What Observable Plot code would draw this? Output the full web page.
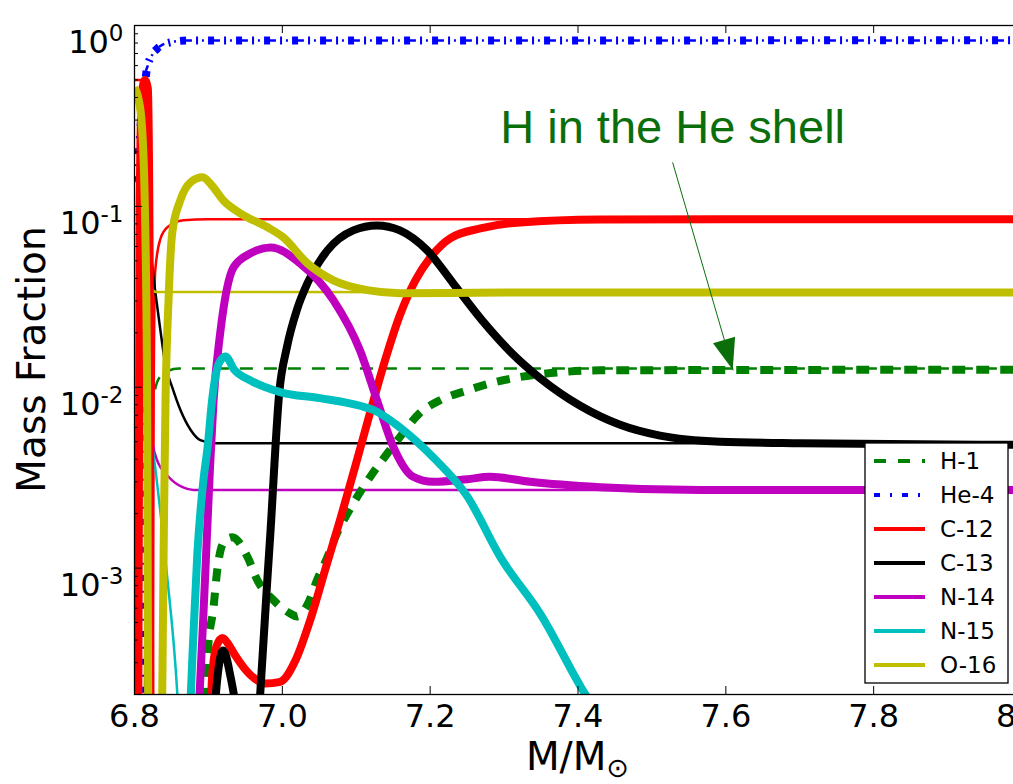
<!DOCTYPE html>
<html>
<head>
<meta charset="utf-8">
<script src="https://cdn.jsdelivr.net/npm/d3@7"></script>
<script src="https://cdn.jsdelivr.net/npm/@observablehq/plot@0.6"></script>
<style>
  html, body { margin: 0; padding: 0; background: #fff; overflow: hidden; }
  #chart { width: 1013px; height: 784px; overflow: hidden; }
  #chart svg { max-width: none !important; height: 784px !important; }
</style>
</head>
<body>
<div id="chart"></div>
<script>
// Mass-fraction profiles across the He intershell, [M/Msun, mass fraction].
// "thin" = reference profile, "thick" = profile after H ingestion.
const species = ["H-1", "He-4", "C-12", "C-13", "N-14", "N-15", "O-16"];

const thinH1 = [[6.814,1e-4],[6.818,0.002],[6.822,0.0065],[6.828,0.0098],[6.835,0.0115],[6.845,0.0123],[6.86,0.0127],[7.0,0.0127],[8.0,0.0127]];
const thickH1 = [[6.893,1e-4],[6.899,3.4e-4],[6.907,6.1e-4],[6.912,9.8e-4],[6.920,1.37e-3],[6.932,1.48e-3],[6.953,1.15e-3],[6.966,8.6e-4],[6.988,6.65e-4],[7.011,5.6e-4],[7.020,5.4e-4],[7.035,6.4e-4],[7.047,8.6e-4],[7.061,1.15e-3],[7.074,1.56e-3],[7.088,2.0e-3],[7.119,3.2e-3],[7.142,4.3e-3],[7.159,5.3e-3],[7.186,7.2e-3],[7.214,8.5e-3],[7.25,9.6e-3],[7.281,0.0105],[7.322,0.0114],[7.376,0.0121],[7.43,0.0124],[8.0,0.0125]];

const thinHe4 = [[6.8,0.136],[6.803,0.22],[6.807,0.38],[6.812,0.5],[6.818,0.6],[6.825,0.7],[6.835,0.77],[6.85,0.81],[6.87,0.825],[8.0,0.826]];
const thickHe4 = [[6.811,1e-4],[6.813,0.3],[6.816,0.55],[6.822,0.67],[6.83,0.74],[6.845,0.8],[6.87,0.825],[8.0,0.828]];

const thinC12 = [[6.8,0.5],[6.817,0.5],[6.8195,0.05],[6.821,1e-4],[6.824,1e-4],[6.826,0.01],[6.828,0.044],[6.835,0.066],[6.845,0.077],[6.866,0.0837],[6.9,0.0848],[8.0,0.085]];
const thickC12 = [[6.805,1e-4],[6.807,0.1],[6.810,0.42],[6.814,0.5],[6.818,0.45],[6.8205,0.05],[6.822,1e-4],[6.9,1e-4],[6.905,2.5e-4],[6.911,3.7e-4],[6.919,4.1e-4],[6.927,3.8e-4],[6.936,3.3e-4],[6.957,2.56e-4],[6.977,2.3e-4],[6.997,2.35e-4],[7.018,3.1e-4],[7.038,5.2e-4],[7.058,9.8e-4],[7.078,1.84e-3],[7.099,3.7e-3],[7.119,7.3e-3],[7.139,0.0141],[7.159,0.025],[7.18,0.039],[7.2,0.052],[7.227,0.0666],[7.268,0.0755],[7.322,0.0815],[7.43,0.0845],[7.6,0.085],[8.0,0.085]];

const thinC13 = [[6.814,1e-4],[6.816,0.03],[6.819,0.06],[6.823,0.05],[6.828,0.034],[6.835,0.0207],[6.842,0.0132],[6.851,0.01],[6.862,0.0075],[6.876,0.0058],[6.889,0.0051],[6.909,0.0049],[8.0,0.0049]];
const thickC13 = [[6.905,1e-4],[6.91,2e-4],[6.92,3.5e-4],[6.93,2.5e-4],[6.939,1.5e-4],[6.944,1e-4],[6.966,1e-4],[6.97,2e-4],[6.984,1.6e-3],[6.996,0.0095],[7.006,0.0165],[7.02,0.027],[7.034,0.0376],[7.061,0.0571],[7.096,0.0737],[7.128,0.0785],[7.159,0.0737],[7.196,0.0571],[7.231,0.0376],[7.27,0.0235],[7.31,0.0155],[7.349,0.0112],[7.403,0.0079],[7.457,0.0062],[7.511,0.0054],[7.592,0.005],[7.7,0.0049],[8.0,0.0048]];

const thinN14 = [[6.814,0.03],[6.818,0.012],[6.822,0.0058],[6.83,0.004],[6.846,0.0032],[6.865,0.0028],[6.88,0.0027],[8.0,0.0027]];
const thickN14 = [[6.883,1e-4],[6.888,2e-4],[6.895,8e-4],[6.902,0.0035],[6.907,0.0085],[6.916,0.02],[6.934,0.046],[6.957,0.055],[6.984,0.0593],[7.024,0.0484],[7.069,0.0303],[7.105,0.016],[7.128,0.0085],[7.15,0.0047],[7.177,0.0032],[7.204,0.003],[7.25,0.0031],[7.281,0.0032],[7.335,0.003],[7.43,0.0028],[7.565,0.0027],[8.0,0.0027]];

const thinN15 = [[6.815,0.012],[6.82,0.0065],[6.828,0.0036],[6.843,0.001],[6.858,2e-4],[6.862,1e-4]];
const thickN15 = [[6.873,1e-4],[6.878,3e-4],[6.885,1.2e-3],[6.893,3e-3],[6.899,4.7e-3],[6.905,8.5e-3],[6.914,0.0135],[6.923,0.0148],[6.935,0.0125],[6.957,0.0109],[6.997,0.0094],[7.051,0.0087],[7.105,0.0079],[7.123,0.0075],[7.159,0.006],[7.204,0.0041],[7.25,0.0025],[7.295,0.00115],[7.35,5.5e-4],[7.41,2e-4],[7.43,1.5e-4]];

const thinO16 = [[6.8,0.45],[6.81,0.4],[6.815,0.2],[6.818,0.06],[6.821,0.036],[6.83,0.0336],[8.0,0.0335]];
const thickO16 = [[6.8,0.45],[6.805,0.4],[6.81,0.28],[6.814,0.1],[6.817,0.01],[6.819,1e-4],[6.836,1e-4],[6.84,0.002],[6.842,0.0085],[6.846,0.03],[6.851,0.071],[6.862,0.108],[6.876,0.136],[6.892,0.145],[6.905,0.13],[6.92,0.108],[6.943,0.0915],[6.98,0.0766],[7.001,0.0675],[7.034,0.0484],[7.069,0.039],[7.115,0.0344],[7.159,0.0331],[7.3,0.0334],[8.0,0.0334]];

const thinProfiles = [thinH1, thinHe4, thinC12, thinC13, thinN14, thinN15, thinO16];
const thickProfiles = [thickH1, thickHe4, thickC12, thickC13, thickN14, thickN15, thickO16];

// axis ticks
const xTicks = [6.8, 7.0, 7.2, 7.4, 7.6, 7.8, 8.0];
const yMajor = [1e-3, 1e-2, 1e-1, 1];
const yMinor = [3e-4,4e-4,5e-4,6e-4,7e-4,8e-4,9e-4, 2e-3,3e-3,4e-3,5e-3,6e-3,7e-3,8e-3,9e-3, 2e-2,3e-2,4e-2,5e-2,6e-2,7e-2,8e-2,9e-2, 0.2,0.3,0.4,0.5,0.6,0.7,0.8,0.9];

// annotation
const noteText = "H in the He shell";
const noteAt = [7.528, 0.273];     // text centre
const noteFrom = [7.528, 0.175];   // arrow start
const noteTip = [7.61, 0.0124];    // arrow tip

// styling
const colors = ["#008000", "#0000ff", "#ff0000", "#000000", "#bf00bf", "#00bfbf", "#bfbf00"];
const dashes = ["13,11", "6,10,2,10", null, null, null, null, null];
const legendDashes = ["12,12", "6,10,2,10", null, null, null, null, null];
const noteColor = "#0a6e0a";

const W = 1040, H = 784;
const mL = 134, mT = 25, mR = 19, mB = 90;
const frameW = W - mL - mR, frameH = H - mT - mB;

function profileLines(profiles, width) {
  return profiles.map((pts, i) => Plot.line(pts, {
    x: d => d[0], y: d => d[1],
    stroke: colors[i], strokeWidth: width,
    strokeDasharray: dashes[i] ?? undefined,
    strokeLinecap: "butt", strokeLinejoin: "round",
    curve: "monotone-x", clip: true
  }));
}

const plot = Plot.plot({
  width: W, height: H,
  marginLeft: mL, marginTop: mT, marginRight: mR, marginBottom: mB,
  style: {fontFamily: "DejaVu Sans", background: "white", color: "black", maxWidth: "none"},
  x: {domain: [6.8, 8.0]},
  y: {type: "log", domain: [2e-4, 1]},
  marks: [
    ...profileLines(thinProfiles, 2.5),
    ...profileLines(thickProfiles, 8),
    // inward ticks on all four sides
    Plot.tickX(xTicks, {x: d => d, insetTop: frameH - 8, stroke: "black", strokeWidth: 1}),
    Plot.tickX(xTicks, {x: d => d, insetBottom: frameH - 8, stroke: "black", strokeWidth: 1}),
    Plot.tickY(yMajor, {y: d => d, insetRight: frameW - 8, stroke: "black", strokeWidth: 1}),
    Plot.tickY(yMinor, {y: d => d, insetRight: frameW - 4, stroke: "black", strokeWidth: 1}),
    Plot.tickY(yMajor, {y: d => d, insetLeft: frameW - 8, stroke: "black", strokeWidth: 1}),
    Plot.tickY(yMinor, {y: d => d, insetLeft: frameW - 4, stroke: "black", strokeWidth: 1}),
    Plot.axisX({ticks: xTicks, tickSize: 0, tickPadding: 10, tickFormat: d3.format(".1f"), fontSize: 32, label: null}),
    Plot.axisY({ticks: yMajor, tickSize: 0, tickPadding: 11, tickFormat: d => `10^${Math.round(Math.log10(d))}`, fontSize: 32, label: null}),
    Plot.frame({stroke: "black", strokeWidth: 1.3}),
    // annotation
    Plot.link([noteFrom], {x1: d => d[0], y1: d => d[1], x2: () => noteTip[0], y2: () => noteTip[1], stroke: noteColor, strokeWidth: 1}),
    Plot.text([noteAt], {x: d => d[0], y: d => d[1], text: () => noteText, fill: noteColor, fontSize: 47, fontFamily: "Liberation Sans", textAnchor: "middle", lineAnchor: "middle"})
  ]
});

document.getElementById("chart").appendChild(plot);

const svg = d3.select(plot);

// superscript exponents on the log axis labels
svg.selectAll('g[aria-label="y-axis tick label"] text').each(function () {
  const s = this.textContent;
  const [base, exp] = s.split("^");
  const t = d3.select(this);
  t.text(null).attr("dy", "0.55em");
  t.append("tspan").text(base);
  t.append("tspan").attr("dy", -12).attr("font-size", 23).text(exp);
});

// scale helpers
function scaleFn(name, fallback) {
  const s = plot.scale(name);
  if (s && typeof s.apply === "function") return v => s.apply(v);
  return fallback(s.domain, s.range);
}
const sx = scaleFn("x", (d, r) => d3.scaleLinear(d, r));
const sy = scaleFn("y", (d, r) => d3.scaleLog(d, r));

// filled arrow head
{
  const x0 = sx(noteFrom[0]), y0 = sy(noteFrom[1]);
  const x1 = sx(noteTip[0]), y1 = sy(noteTip[1]);
  const len = Math.hypot(x1 - x0, y1 - y0);
  const ux = (x1 - x0) / len, uy = (y1 - y0) / len;
  const hl = 31, hw = 11.5;
  const bx = x1 - ux * hl, by = y1 - uy * hl;
  const pts = [[x1, y1], [bx - uy * hw, by + ux * hw], [bx + uy * hw, by - ux * hw]];
  svg.append("polygon").attr("points", pts.map(p => p.join(",")).join(" ")).attr("fill", noteColor);
}

// axis titles
svg.append("text")
  .attr("transform", `translate(45,${mT + frameH / 2}) rotate(-90)`)
  .attr("text-anchor", "middle").attr("font-size", 39).attr("fill", "black")
  .text("Mass Fraction");
{
  const t = svg.append("text")
    .attr("x", mL + frameW / 2).attr("y", 770)
    .attr("text-anchor", "middle").attr("font-size", 39).attr("fill", "black");
  t.append("tspan").text("M/M");
  t.append("tspan").attr("font-size", 27).attr("dy", 7).text("\u2299");
}

// legend
{
  const lx = 865, ly = 443, lw = 143, lh = 240, step = 34;
  const g = svg.append("g").attr("font-size", 23).attr("text-anchor", "start");
  g.append("rect").attr("x", lx).attr("y", ly).attr("width", lw).attr("height", lh)
    .attr("fill", "white").attr("stroke", "black").attr("stroke-width", 1.3);
  species.forEach((name, i) => {
    const cy = ly + 18 + i * step;
    g.append("line").attr("x1", lx + 9).attr("x2", lx + 60).attr("y1", cy).attr("y2", cy)
      .attr("stroke", colors[i]).attr("stroke-width", 4)
      .attr("stroke-dasharray", legendDashes[i]);
    g.append("text").attr("x", lx + 75).attr("y", cy).attr("dy", "0.36em")
      .attr("text-anchor", "start").attr("fill", "black").text(name);
  });
}
</script>
</body>
</html>
